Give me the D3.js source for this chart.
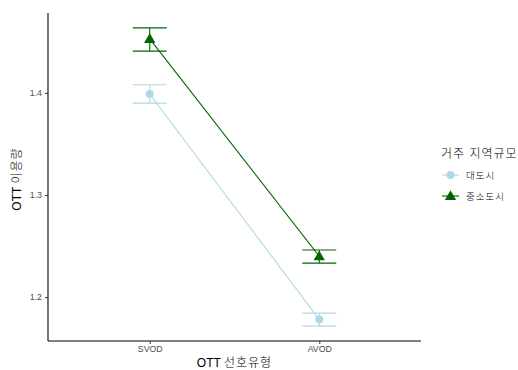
<!DOCTYPE html>
<html>
<head>
<meta charset="utf-8">
<script src="https://cdn.jsdelivr.net/npm/d3@7"></script>
<style>
  body { margin: 0; background: #fff; }
  svg text { font-family: "Liberation Sans", Arial, "Noto Sans CJK KR", sans-serif; }
  svg text.ko, svg tspan.ko { font-weight: 300; letter-spacing: 1px; }
</style>
</head>
<body>
<svg id="chart" width="518" height="370"></svg>
<script>
// OTT preference type on x, mean usage with error bars by city size
const categories = ["SVOD", "AVOD"];
const groups = ["대도시", "중소도시"];
const meansBig = [1.399, 1.178];
const lowBig = [1.390, 1.1716];
const highBig = [1.408, 1.1843];
const meansSmall = [1.453, 1.240];
const lowSmall = [1.441, 1.2333];
const highSmall = [1.4637, 1.2462];
const yTicks = [1.2, 1.3, 1.4];
const colors = ["#ADD8E6", "#006400"];

const series = [
  { name: groups[0], color: colors[0], shape: "circle", mean: meansBig, lo: lowBig, hi: highBig },
  { name: groups[1], color: colors[1], shape: "triangle", mean: meansSmall, lo: lowSmall, hi: highSmall }
];

const svg = d3.select("#chart");
const plot = { left: 48, right: 421, top: 13, bottom: 341 };

// Discrete x positions with ggplot-style 0.6 unit padding
const x = d3.scalePoint().domain(categories).range([plot.left, plot.right]).padding(0.6);
const step = x.step();

const allVals = [].concat(lowBig, highBig, lowSmall, highSmall);
const yMin = d3.min(allVals), yMax = d3.max(allVals), pad = (yMax - yMin) * 0.05;
const y = d3.scaleLinear().domain([yMin - pad, yMax + pad]).range([plot.bottom, plot.top]);

// Axes
const yAxis = svg.append("g").attr("transform", `translate(${plot.left},0)`)
  .call(d3.axisLeft(y).tickValues(yTicks).tickFormat(d3.format(".1f")).tickSize(3).tickPadding(3));
const xAxis = svg.append("g").attr("transform", `translate(0,${plot.bottom})`)
  .call(d3.axisBottom(x).tickSize(3).tickPadding(2));
[yAxis, xAxis].forEach(g => {
  g.select(".domain").attr("stroke", "#000").attr("stroke-width", 1.1);
  g.selectAll(".tick line").attr("stroke", "#333");
  g.selectAll(".tick text").attr("fill", "#4d4d4d").attr("font-size", 8.8);
});
yAxis.select(".domain").attr("d", `M0,${plot.bottom}V${plot.top}`);
xAxis.select(".domain").attr("d", `M${plot.left},0H${plot.right}`);

// Series lines, error bars and points
const line = d3.line().x((d, i) => x(categories[i])).y(d => y(d));
const barHalf = step * 0.1;

series.forEach(s => {
  const g = svg.append("g");
  g.append("path").datum(s.mean).attr("d", line)
    .attr("fill", "none").attr("stroke", s.color).attr("stroke-width", 1.1);
  categories.forEach((c, i) => {
    const cx = x(c);
    g.append("line").attr("x1", cx).attr("x2", cx).attr("y1", y(s.lo[i])).attr("y2", y(s.hi[i]))
      .attr("stroke", s.color).attr("stroke-width", 1.1);
    [s.lo[i], s.hi[i]].forEach(v => {
      g.append("line").attr("x1", cx - barHalf).attr("x2", cx + barHalf)
        .attr("y1", y(v)).attr("y2", y(v)).attr("stroke", s.color).attr("stroke-width", 1.1);
    });
    const sym = s.shape === "circle" ? d3.symbolCircle : d3.symbolTriangle;
    const size = s.shape === "circle" ? 50 : 55;
    g.append("path").attr("d", d3.symbol().type(sym).size(size)())
      .attr("transform", `translate(${cx},${y(s.mean[i]) + (s.shape === "triangle" ? 0.8 : 0)})`)
      .attr("fill", s.color);
  });
});

// Axis titles: Latin prefix plus spaced Korean part
function mixedTitle(sel, latin, korean) {
  sel.append("tspan").text(latin);
  sel.append("tspan").attr("class", "ko").text(korean);
}
const xt = svg.append("text").attr("x", (plot.left + plot.right) / 2).attr("y", 367)
  .attr("text-anchor", "middle").attr("font-size", 12).attr("fill", "#000");
mixedTitle(xt, "OTT ", "선호유형");
const yt = svg.append("text").attr("transform", `translate(21,${(plot.top + plot.bottom) / 2 + 2}) rotate(-90)`)
  .attr("text-anchor", "middle").attr("font-size", 12).attr("fill", "#000");
mixedTitle(yt, "OTT ", "이용량");

// Legend
const legend = svg.append("g").attr("transform", "translate(441,0)");
legend.append("text").attr("class", "ko").attr("x", 0).attr("y", 158).attr("font-size", 12).attr("fill", "#000").text("거주 지역규모");
series.forEach((s, i) => {
  const ly = 175 + i * 21;
  legend.append("line").attr("x1", 1).attr("x2", 18).attr("y1", ly).attr("y2", ly)
    .attr("stroke", s.color).attr("stroke-width", 1.1);
  const sym = s.shape === "circle" ? d3.symbolCircle : d3.symbolTriangle;
  legend.append("path").attr("d", d3.symbol().type(sym).size(s.shape === "circle" ? 50 : 55)())
    .attr("transform", `translate(9.5,${ly + (s.shape === "triangle" ? 0.8 : 0)})`).attr("fill", s.color);
  legend.append("text").attr("class", "ko").attr("x", 25).attr("y", ly + 4).attr("font-size", 9.5).attr("fill", "#000").text(s.name);
});
</script>
</body>
</html>
